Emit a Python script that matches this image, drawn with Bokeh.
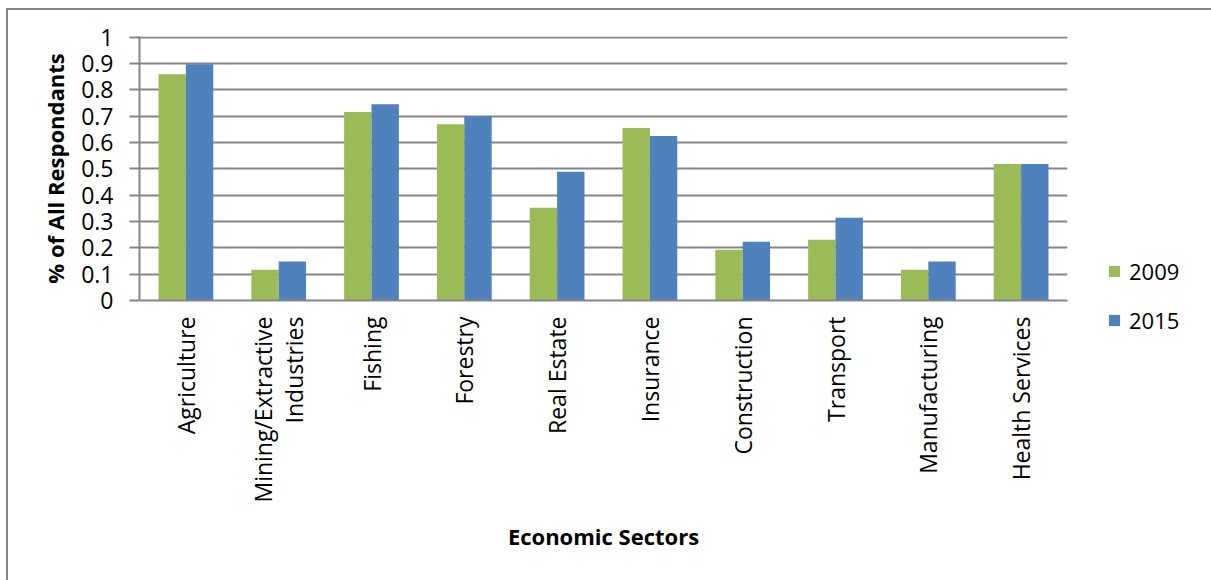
import math
from bokeh.plotting import figure
from bokeh.models import (FactorRange, Range1d, FixedTicker, NumeralTickFormatter,
                          Legend, LegendItem, ColumnDataSource)
from bokeh.transform import dodge
from bokeh.embed import file_html
from bokeh.resources import INLINE

# ---- data ----
sectors = ["Agriculture", "Mining/Extractive\nIndustries", "Fishing", "Forestry",
           "Real Estate", "Insurance", "Construction", "Transport",
           "Manufacturing", "Health Services"]
values_2009 = [0.86, 0.117, 0.716, 0.67, 0.352, 0.655, 0.193, 0.231, 0.117, 0.519]
values_2015 = [0.898, 0.148, 0.746, 0.70, 0.489, 0.625, 0.223, 0.314, 0.148, 0.519]
series_names = ["2009", "2015"]
series_colors = ["#9BBB59", "#4F81BD"]
y_ticks = [0, 0.1, 0.2, 0.3, 0.4, 0.5, 0.6, 0.7, 0.8, 0.9, 1]
x_title = "Economic Sectors"
y_title = "% of All Respondants"

FONT = "Open Sans"
GRID = "#868686"

src = ColumnDataSource(data=dict(sector=sectors, v2009=values_2009, v2015=values_2015))

# page: 6px left margin + 2px border, 8px top margin + 2px border
p = figure(frame_width=928, frame_height=264, output_backend="svg", toolbar_location=None,
           x_range=FactorRange(*sectors, range_padding=0),
           y_range=Range1d(0, 1.003),
           min_border_left=131, min_border_right=137,
           min_border_top=26, min_border_bottom=280)
p.styles = {"margin-left": "6px", "margin-top": "8px",
            "border-left": "2px solid #868686", "border-right": "2px solid #868686",
            "border-top": "2px solid #868686"}

bar_w = 0.295
r1 = p.vbar(x=dodge("sector", -bar_w / 2, range=p.x_range), top="v2009", width=bar_w,
            source=src, fill_color=series_colors[0], line_color=None)
r2 = p.vbar(x=dodge("sector", bar_w / 2, range=p.x_range), top="v2015", width=bar_w,
            source=src, fill_color=series_colors[1], line_color=None)

p.outline_line_color = None
p.background_fill_color = "white"
p.border_fill_color = "white"

# grid
p.xgrid.grid_line_color = None
p.ygrid.grid_line_color = GRID
p.ygrid.grid_line_width = 2
p.ygrid.ticker = FixedTicker(ticks=y_ticks)

# y axis
p.yaxis.ticker = FixedTicker(ticks=y_ticks)
p.yaxis.formatter = NumeralTickFormatter(format="0.[0]")
p.yaxis.axis_line_color = GRID
p.yaxis.axis_line_width = 2
p.yaxis.major_tick_line_color = GRID
p.yaxis.major_tick_line_width = 2
p.yaxis.major_tick_out = 10
p.yaxis.major_tick_in = 0
p.yaxis.minor_tick_line_color = None
p.yaxis.major_label_standoff = 16
p.yaxis.major_label_text_font = FONT
p.yaxis.major_label_text_font_size = "23px"
p.yaxis.major_label_text_color = "black"
p.yaxis.axis_label = y_title
p.yaxis.axis_label_text_font = FONT
p.yaxis.axis_label_text_font_size = "22px"
p.yaxis.axis_label_text_font_style = "bold"
p.yaxis.axis_label_text_color = "black"
p.yaxis.axis_label_standoff = 8

# x axis
p.xaxis.axis_line_color = GRID
p.xaxis.axis_line_width = 2
p.xaxis.major_tick_line_color = None
p.xaxis.major_tick_out = 0
p.xaxis.major_tick_in = 0
p.xaxis.minor_tick_line_color = None
p.xaxis.major_label_orientation = math.pi / 2
p.xaxis.major_label_standoff = 16
p.xaxis.major_label_text_font = FONT
p.xaxis.major_label_text_font_size = "23px"
p.xaxis.major_label_text_color = "black"
p.xaxis.major_label_text_line_height = 0.95
p.xaxis.axis_label = x_title
p.xaxis.axis_label_text_font = FONT
p.xaxis.axis_label_text_font_size = "22px"
p.xaxis.axis_label_text_font_style = "bold"
p.xaxis.axis_label_text_color = "black"
p.xaxis.axis_label_standoff = 15

# legend (in the right-hand panel)
legend = Legend(items=[LegendItem(label=series_names[0], renderers=[r1]),
                       LegendItem(label=series_names[1], renderers=[r2])],
                location=(40, -35), orientation="vertical",
                glyph_width=14, glyph_height=14,
                label_standoff=8, spacing=19, padding=0, margin=0,
                border_line_color=None, background_fill_alpha=0,
                label_text_font=FONT, label_text_font_size="22px",
                label_text_color="black")
p.add_layout(legend, "right")

open("out.html", "w").write(file_html(p, INLINE))
